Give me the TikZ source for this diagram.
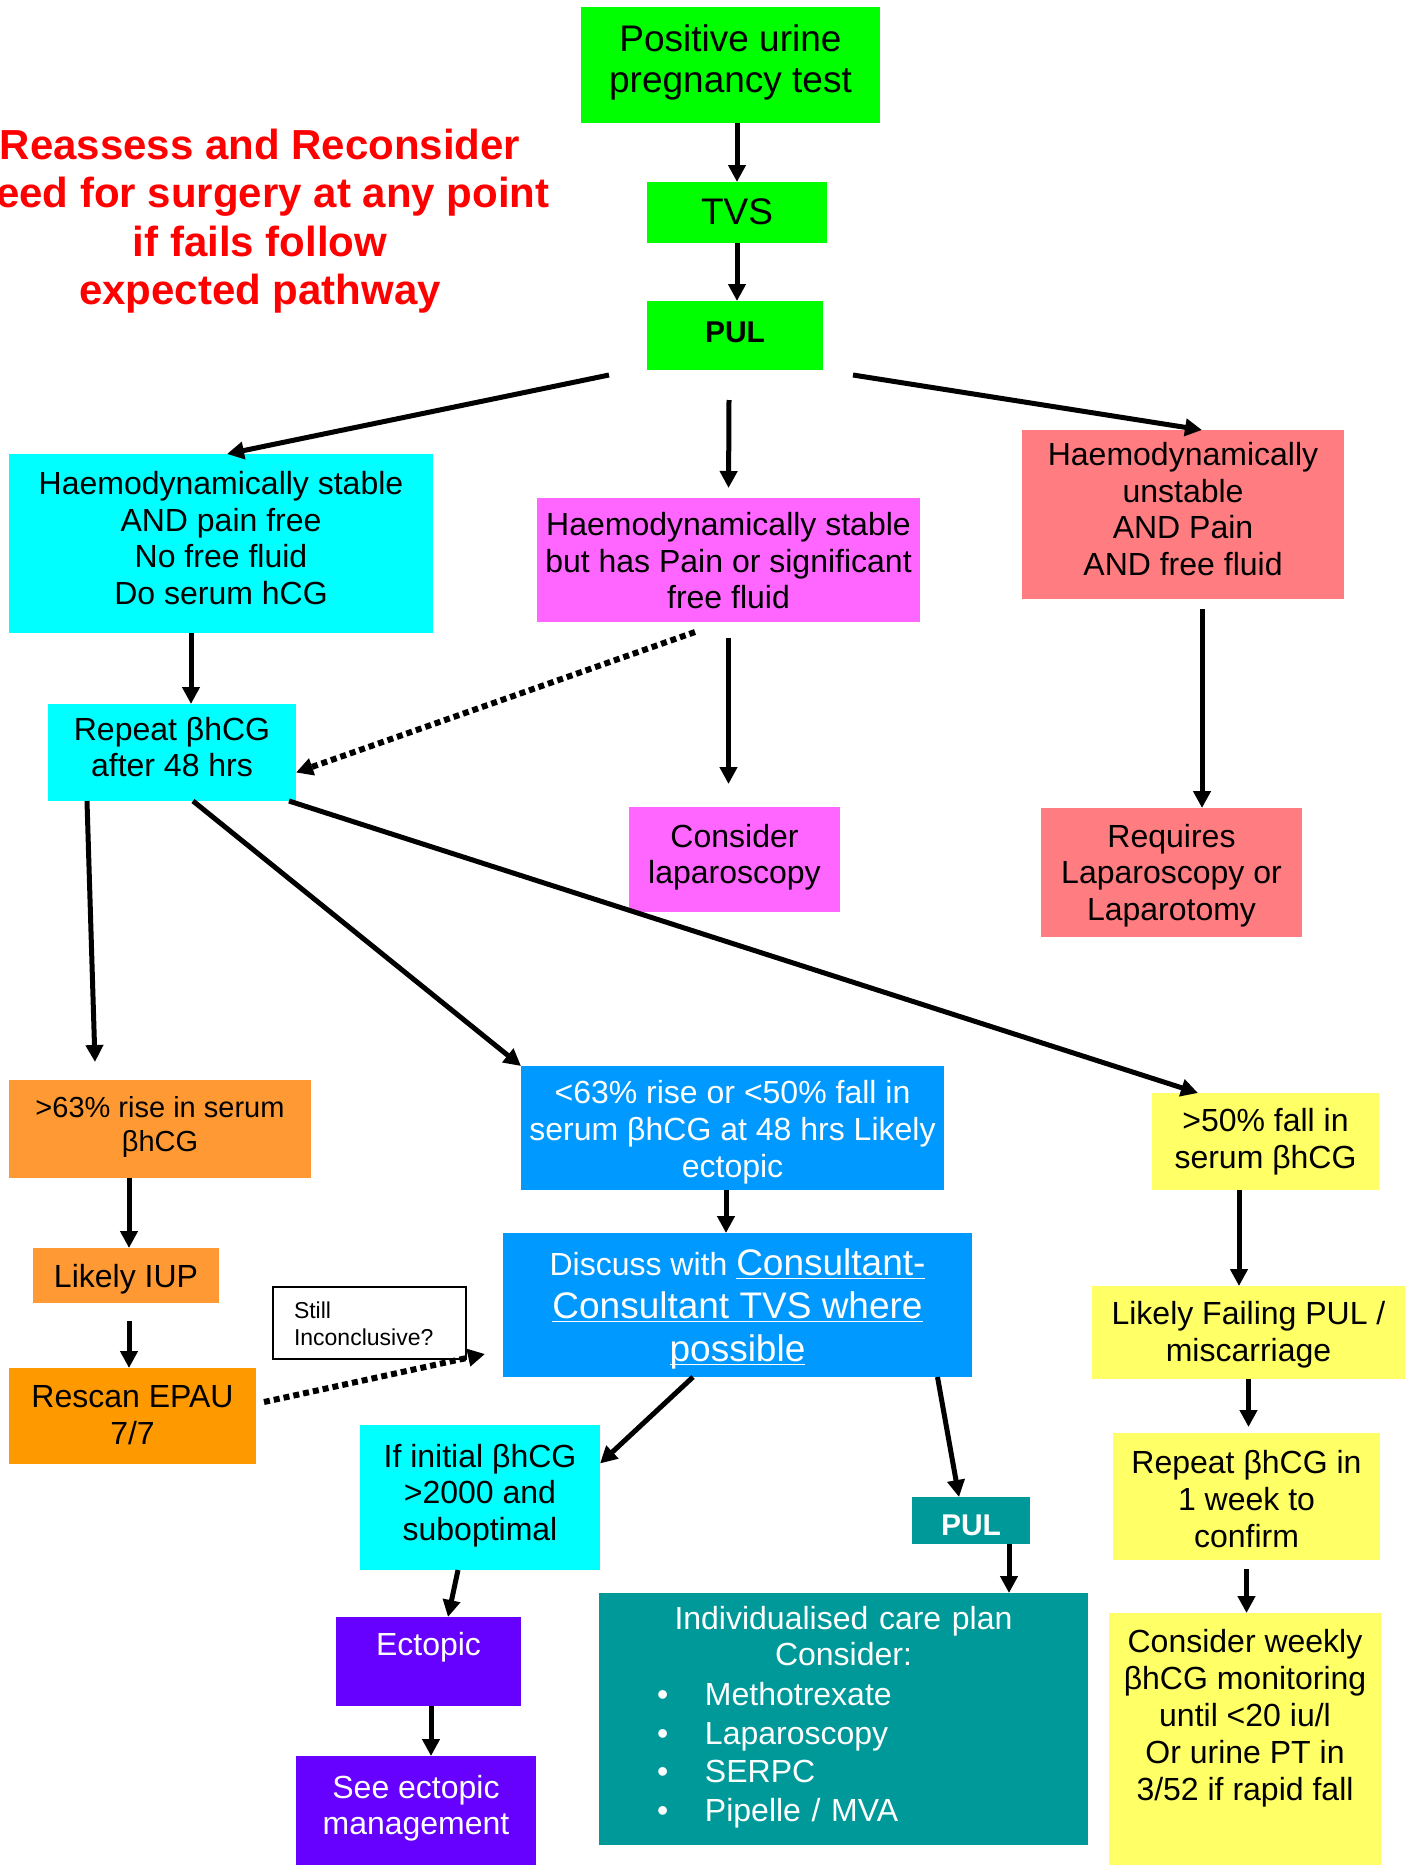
\documentclass[tikz,border=0pt]{standalone}
\usepackage{fontspec}
\setmainfont{Liberation Sans}
\usepackage{amsmath}
\usepackage{xcolor}
\usepackage{tikz}
\usetikzlibrary{arrows.meta}

\definecolor{grn}{HTML}{00FF00}
\definecolor{cyn}{HTML}{00FFFF}
\definecolor{mgt}{HTML}{FF66FF}
\definecolor{salmon}{HTML}{FF7C80}
\definecolor{orgL}{HTML}{FF9933}
\definecolor{orgD}{HTML}{FF9900}
\definecolor{blu}{HTML}{0099FF}
\definecolor{purp}{HTML}{6600FF}
\definecolor{tea}{HTML}{009999}
\definecolor{yel}{HTML}{FFFF66}
\newcommand{\boxfont}[2]{\fontsize{#1}{#2}\selectfont}
\newcommand{\topgap}[1]{\rule{0pt}{#1pt}}

\begin{document}
\begin{tikzpicture}[x=1pt,y=-1pt,
  box/.style={rectangle,anchor=north west,inner sep=0pt,outer sep=0pt,align=center,font=\boxfont{32}{36.5},execute at end node=\strut},
  arr/.style={line width=5pt,-{Triangle[length=17pt,width=17pt]}},
  dots/.style={line width=6pt,dash pattern=on 6pt off 4pt,-{Triangle[length=17pt,width=17pt]}}]
\useasboundingbox (0,0) rectangle (1413,1865);

\node[font=\bfseries\boxfont{42}{48.5},text=red,align=center] (note) at (260,221) {Reassess and Reconsider\\need for surgery at any point\\if fails follow\\expected pathway};

\node[box,fill=grn,minimum width=299pt,minimum height=116pt,font=\boxfont{37}{41}] (pos) at (581,7) {Positive urine\\pregnancy test};
\node[box,fill=grn,minimum width=180pt,minimum height=61pt,font=\boxfont{37}{41}] (tvs) at (647,182) {\topgap{37}TVS};
\node[box,fill=grn,minimum width=176pt,minimum height=69pt,font=\bfseries\boxfont{30}{34}] (pul) at (647,301) {PUL};
\node[box,fill=cyn,minimum width=424pt,minimum height=179pt] (stable) at (9,454) {Haemodynamically stable\\AND pain free\\No free fluid\\Do serum hCG};
\node[box,fill=mgt,minimum width=383pt,minimum height=124pt] (mid) at (537,498) {\topgap{35}Haemodynamically stable\\but has Pain or significant\\free fluid};
\node[box,fill=salmon,minimum width=322pt,minimum height=169pt] (unst) at (1022,430) {Haemodynamically\\unstable\\AND Pain\\AND free fluid};
\node[box,fill=mgt,minimum width=211pt,minimum height=105pt] (lap) at (629,807) {Consider\\laparoscopy};
\node[box,fill=salmon,minimum width=261pt,minimum height=129pt] (req) at (1041,808) {\topgap{33}Requires\\Laparoscopy or\\Laparotomy};
\node[box,fill=cyn,minimum width=248pt,minimum height=97pt] (rep) at (48,704) {Repeat βhCG\\after 48 hrs};
\node[box,fill=orgL,minimum width=302pt,minimum height=98pt,font=\boxfont{29}{34}] (rise) at (9,1080) {>63\% rise in serum\\βhCG};
\node[box,fill=orgL,minimum width=186pt,minimum height=55pt] (iup) at (33,1248) {\topgap{35}Likely IUP};
\node[box,fill=orgD,minimum width=247pt,minimum height=96pt] (rescan) at (9,1368) {\topgap{31}Rescan EPAU\\7/7};
\node[box,draw,line width=2pt,fill=white,minimum width=193pt,minimum height=72pt,inner xsep=21pt,text width=151pt,align=left,font=\boxfont{23}{27}] (still) at (273,1287) {\topgap{27}Still\\Inconclusive?};
\node[box,fill=blu,text=white,minimum width=423pt,minimum height=124pt,font=\boxfont{32}{37}] (low) at (521,1066) {\topgap{37}<63\% rise or <50\% fall in\\serum βhCG at 48 hrs Likely\\ectopic};
\node[box,fill=blu,text=white,minimum width=469pt,minimum height=144pt,font=\boxfont{37}{43}] (disc) at (503,1233) {\topgap{39}{\boxfont{32}{43}Discuss with }\underline{\smash[b]{Consultant-}}\\\underline{\smash[b]{Consultant TVS where}}\\\underline{\smash[b]{possible}}};
\node[box,fill=cyn,minimum width=240pt,minimum height=145pt] (ifinit) at (360,1425) {If initial βhCG\\>2000 and\\suboptimal};
\node[box,fill=purp,text=white,minimum width=185pt,minimum height=89pt] (ect) at (336,1617) {Ectopic\\[-12pt]\mbox{}};
\node[box,fill=purp,text=white,minimum width=240pt,minimum height=109pt] (see) at (296,1756) {See ectopic\\management};
\node[box,fill=tea,text=white,minimum width=118pt,minimum height=47pt,font=\bfseries\boxfont{30}{34}] (pul2) at (912,1497) {\raisebox{-8pt}{PUL}};
\node[box,fill=tea,text=white,minimum width=489pt,minimum height=252pt,text width=489pt,align=left] (care) at (599,1593) {\noindent\makebox[489pt]{Individualised care plan}\\
  \makebox[489pt]{Consider:}\\[3.5pt]
  \hspace*{58pt}\makebox[48pt][l]{•}Methotrexate\\[2pt]
  \hspace*{58pt}\makebox[48pt][l]{•}Laparoscopy\\[2pt]
  \hspace*{58pt}\makebox[48pt][l]{•}SERPC\\[2pt]
  \hspace*{58pt}\makebox[48pt][l]{•}Pipelle / MVA};
\node[box,fill=yel,minimum width=227pt,minimum height=97pt,font=\boxfont{32}{37}] (fall) at (1152,1093) {\topgap{29}>50\% fall in\\serum βhCG};
\node[box,fill=yel,minimum width=313pt,minimum height=93pt,font=\boxfont{32}{37}] (failing) at (1092,1286) {\topgap{33}Likely Failing PUL /\\miscarriage};
\node[box,fill=yel,minimum width=267pt,minimum height=127pt,font=\boxfont{32}{37}] (week) at (1113,1433) {\topgap{39}Repeat βhCG in\\1 week to\\confirm};
\node[box,fill=yel,minimum width=272pt,minimum height=252pt,font=\boxfont{32}{37}] (weekly) at (1109,1613) {Consider weekly\\βhCG monitoring\\until <20 iu/l\\Or urine PT in\\3/52 if rapid fall\\ \mbox{}};

% free ends
\coordinate (a1) at (609,375);
\coordinate (a2) at (729,400);
\coordinate (a3) at (853,375);
\coordinate (a4) at (695,632);
\coordinate (a5) at (95,1062);
\coordinate (a6) at (264,1402);
\coordinate (a7) at (485,1354);

\draw[arr] (tvs.north |- pos.south) -- (tvs.north);
\draw[arr] (tvs.south) -- (tvs.south |- pul.north);
\draw[arr] (a1) -- ([xshift=6pt]stable.north);
\draw[arr,shorten >=10pt] (a2) -- (mid.north);
\draw[arr] (a3) -- ([xshift=19pt]unst.north);
\draw[arr] ([xshift=-30pt]stable.south) -- ([xshift=-30pt]stable.south |- rep.north);
\draw[dots] (a4) -- ([yshift=-20pt]rep.east);
\draw[arr,shorten <=16pt,shorten >=23pt] (mid.south) -- (mid.south |- lap.north);
\draw[arr,shorten <=10pt] ([xshift=19pt]unst.south) -- ([xshift=19pt]unst.south |- req.north);
\draw[arr] ([xshift=-85pt]rep.south) -- (a5);
\draw[arr] ([xshift=21pt]rep.south) -- (low.north west);
\draw[arr] ([xshift=-7pt]rep.south east) -- ([xshift=46pt]fall.north west);
\draw[arr] ([xshift=-31pt]rise.south) -- ([xshift=-31pt]rise.south |- iup.north);
\draw[arr,shorten <=18pt] ([xshift=3pt]iup.south) -- ([xshift=3pt]iup.south |- rescan.north);
\draw[dots] (a6) -- (a7);
\draw[arr] ([xshift=-6.5pt]low.south) -- ([xshift=-6.5pt]low.south |- disc.north);
\draw[arr] ([xshift=-44.5pt]disc.south) -- ([yshift=34pt]ifinit.east);
\draw[arr] ([xshift=200pt]disc.south) -- ([xshift=-12pt]pul2.north);
\draw[arr] ([xshift=38pt]pul2.south) -- ([xshift=38pt]pul2.south |- care.north);
\draw[arr] ([xshift=-22pt]ifinit.south) -- ([xshift=19.5pt]ect.north);
\draw[arr] ([xshift=2.5pt]ect.south) -- ([xshift=2.5pt]ect.south |- see.north);
\draw[arr] ([xshift=-26.5pt]fall.south) -- ([xshift=-26.5pt]fall.south |- failing.north);
\draw[arr,shorten >=6pt] (failing.south) -- (failing.south |- week.north);
\draw[arr,shorten <=9pt] (week.south) -- (week.south |- weekly.north);
\end{tikzpicture}
\end{document}
